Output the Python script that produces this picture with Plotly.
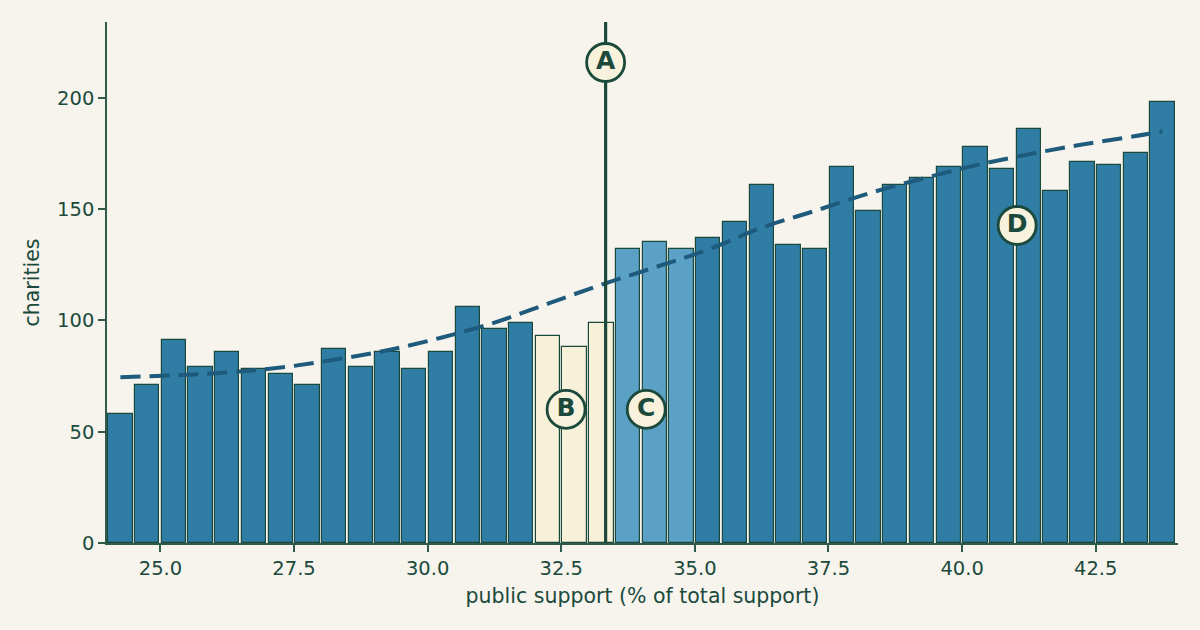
import plotly.graph_objects as go

# ---- data ----
bin_centers = [24.25, 24.75, 25.25, 25.75, 26.25, 26.75, 27.25, 27.75, 28.25, 28.75,
               29.25, 29.75, 30.25, 30.75, 31.25, 31.75, 32.25, 32.75, 33.25, 33.75,
               34.25, 34.75, 35.25, 35.75, 36.25, 36.75, 37.25, 37.75, 38.25, 38.75,
               39.25, 39.75, 40.25, 40.75, 41.25, 41.75, 42.25, 42.75, 43.25, 43.75]
counts = [58, 71, 91, 79, 86, 78, 76, 71, 87, 79,
          86, 78, 86, 106, 96, 99, 93, 88, 99, 132,
          135, 132, 137, 144, 161, 134, 132, 169, 149, 161,
          164, 169, 178, 168, 186, 158, 171, 170, 175, 198]
groups = ["base"] * 16 + ["below"] * 3 + ["above"] * 3 + ["base"] * 18

trend_x = [24.25, 25.25, 26.25, 27.25, 28.25, 29.25, 30.25, 31.25, 32.25, 33.25,
           34.25, 35.25, 36.25, 37.25, 38.25, 39.25, 40.25, 41.25, 42.25, 43.25, 43.75]
trend_y = [74.5, 75.3, 76.6, 78.8, 82.3, 86.6, 92.2, 99.0, 107.5, 116.0,
           123.8, 131.8, 141.6, 149.2, 157.0, 163.6, 169.6, 174.6, 179.0, 182.8, 184.9]

threshold = 33.33
y_top = 234
labels = ["A", "B", "C", "D"]
label_x = [33.33, 32.59, 34.09, 41.03]
label_y = [215.8, 60.0, 60.0, 142.6]

xticks = [25.0, 27.5, 30.0, 32.5, 35.0, 37.5, 40.0, 42.5]
yticks = [0, 50, 100, 150, 200]

# ---- style ----
BG = "#f7f4ee"
INK = "#1b4a3c"
AXIS = "#2f5a4c"
FILL = {"base": "#2f7da5", "below": "#f8f1da", "above": "#5ba1c5"}
TREND = "#1e5a7c"
FONT = "DejaVu Sans"

fig = go.Figure()

fig.add_trace(go.Bar(
    x=bin_centers, y=counts, width=0.455,
    marker=dict(color=[FILL[g] for g in groups], line=dict(color=INK, width=1.2)),
    showlegend=False, hoverinfo="x+y",
))

fig.add_trace(go.Scatter(
    x=trend_x, y=trend_y, mode="lines",
    line=dict(color=TREND, width=4, dash="20px,9px", shape="spline"),
    showlegend=False,
))

fig.add_trace(go.Scatter(
    x=[threshold, threshold], y=[0, y_top], mode="lines",
    line=dict(color=INK, width=3.2), showlegend=False, hoverinfo="skip",
))

fig.add_trace(go.Scatter(
    x=label_x, y=label_y, mode="markers+text", text=labels,
    textposition="middle center",
    textfont=dict(family=FONT, size=25, color=INK, weight="bold"),
    marker=dict(size=38, color="#f8f2dc", line=dict(color=INK, width=2.8)),
    showlegend=False, cliponaxis=False,
))

fig.update_layout(
    width=1200, height=630,
    paper_bgcolor=BG, plot_bgcolor=BG,
    margin=dict(l=107, r=22, t=22, b=87),
    font=dict(family=FONT, color=INK, size=19),
    bargap=0,
)
fig.update_xaxes(
    range=[24.0, 44.04], tickvals=xticks, ticktext=[f"{v:.1f}" for v in xticks],
    showgrid=False, zeroline=False, showline=True, linecolor=AXIS, linewidth=1.5,
    ticks="outside", ticklen=7, tickwidth=1.5, tickcolor=AXIS,
    tickfont=dict(size=19.5, color=INK),
    title=dict(text="public support (% of total support)", font=dict(size=20.5, color=INK), standoff=9),
)
fig.update_yaxes(
    range=[0, y_top], tickvals=yticks,
    showgrid=False, zeroline=False, showline=True, linecolor=AXIS, linewidth=1.5,
    ticks="outside", ticklen=7, tickwidth=1.5, tickcolor=AXIS,
    tickfont=dict(size=19.5, color=INK),
    title=dict(text="charities", font=dict(size=20.5, color=INK), standoff=12),
)

fig.write_html("out.html")
